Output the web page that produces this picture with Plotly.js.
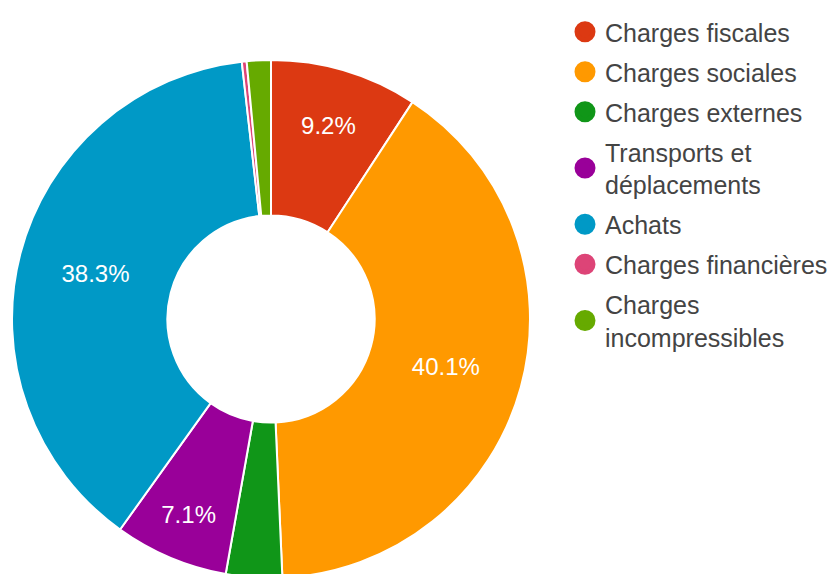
<!DOCTYPE html>
<html>
<head>
<meta charset="utf-8">
<script src="https://cdn.plot.ly/plotly-3.0.1.min.js"></script>
<style>
html,body{margin:0;padding:0;background:#fff;overflow:hidden;width:838px;height:574px;}
#chart{width:838px;height:580px;}
</style>
</head>
<body>
<div id="chart"></div>
<script>
const categories = ["Charges fiscales", "Charges sociales", "Charges externes", "Transports et déplacements", "Achats", "Charges financières", "Charges incompressibles"];
const legendLabels = ["Charges fiscales", "Charges sociales", "Charges externes", "Transports et<br>déplacements", "Achats", "Charges financières", "Charges<br>incompressibles"];
const values = [9.2, 40.1, 3.5, 7.1, 38.3, 0.3, 1.5];
const colors = ["#dc3912", "#ff9900", "#109618", "#990099", "#0099c6", "#dd4477", "#66aa00"];

const W = 838, H = 580;
const FONT = "Liberation Sans, Arial, sans-serif";
const pie = {
  type: "pie",
  labels: categories,
  values: values,
  sort: false,
  direction: "clockwise",
  rotation: 0,
  hole: 0.40,
  marker: {colors: colors, line: {color: "#ffffff", width: 2}},
  texttemplate: values.map(v => v >= 5 ? "%{percent:.1%}" : ""),
  textposition: "inside",
  insidetextorientation: "horizontal",
  textfont: {family: FONT, size: 24, color: "#ffffff"},
  domain: {x: [12 / W, 530 / W], y: [(H - 578) / H, (H - 60) / H]},
  showlegend: false,
  hoverinfo: "label+percent"
};

const legendTraces = categories.map((c, i) => ({
  type: "scatter",
  mode: "markers",
  x: [null], y: [null],
  name: legendLabels[i],
  legendgroup: "g" + i,
  marker: {color: colors[i], size: 16, symbol: "circle", line: {color: colors[i], width: 5}},
  showlegend: true,
  hoverinfo: "skip"
}));

const layout = {
  width: W, height: H,
  margin: {l: 0, r: 0, t: 0, b: 0},
  paper_bgcolor: "#ffffff",
  plot_bgcolor: "#ffffff",
  xaxis: {visible: false, domain: [0.99, 1]},
  yaxis: {visible: false, domain: [0.99, 1]},
  showlegend: true,
  legend: {
    x: 565 / W, xanchor: "left",
    y: 1 - 9 / H, yanchor: "top",
    font: {family: FONT, size: 25, color: "#444444"},
    tracegroupgap: 4.5,
    traceorder: "grouped",
    itemclick: false, itemdoubleclick: false,
    bgcolor: "rgba(0,0,0,0)"
  }
};

Plotly.newPlot("chart", [pie].concat(legendTraces), layout, {displayModeBar: false, staticPlot: true});
</script>
</body>
</html>
